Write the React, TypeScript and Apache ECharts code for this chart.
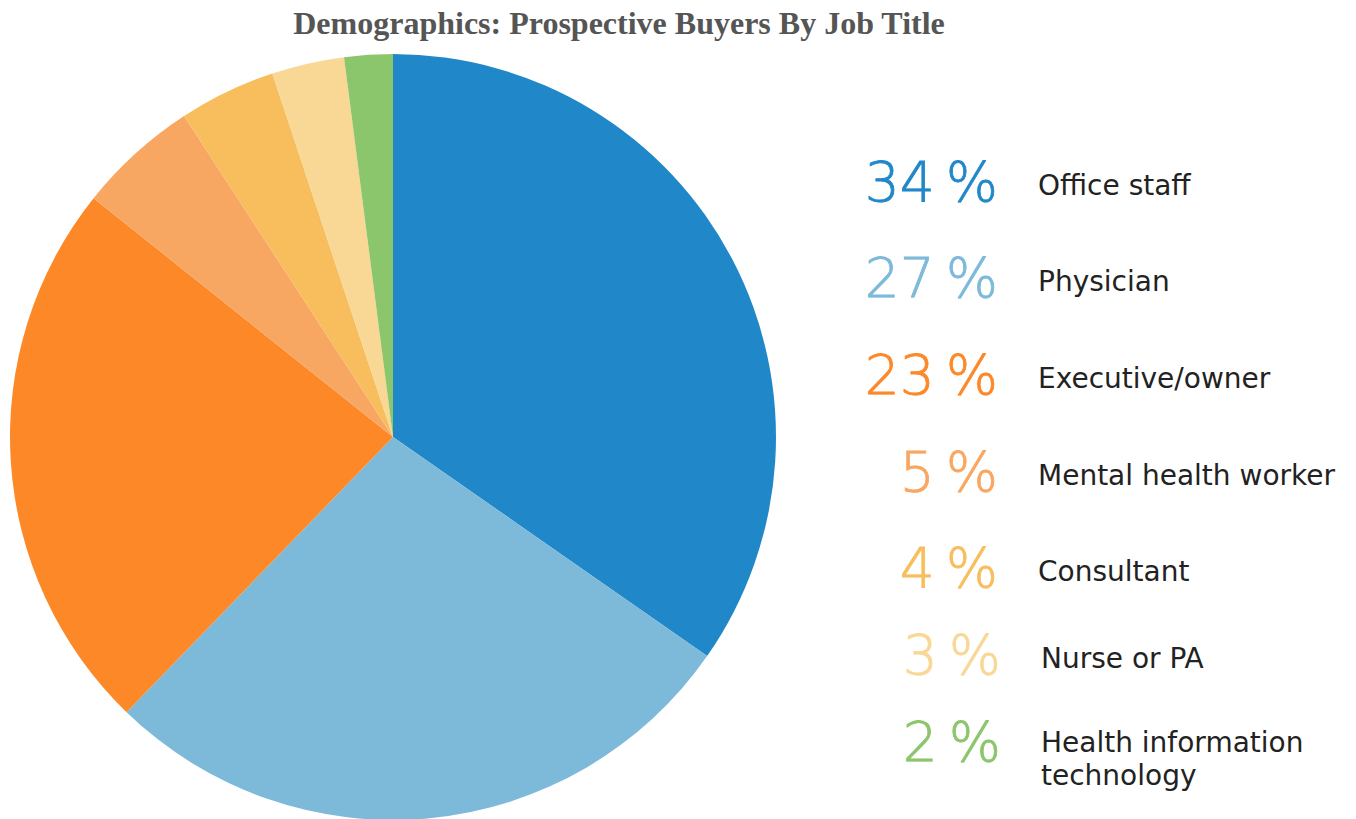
import React, { useEffect, useRef } from "react";
import * as echarts from "echarts";

const categories = [
  "Office staff",
  "Physician",
  "Executive/owner",
  "Mental health worker",
  "Consultant",
  "Nurse or PA",
  "Health information\ntechnology",
];
const values = [34, 27, 23, 5, 4, 3, 2];
const colors = ["#2088c8", "#7db9d9", "#fc8827", "#f8a762", "#f8bd5d", "#f9d795", "#8bc56c"];
const rowY = [182, 278, 375, 472, 568, 655, 742];
const titleText = "Demographics: Prospective Buyers By Job Title";

export default function App() {
  const ref = useRef<HTMLDivElement>(null);
  useEffect(() => {
    document.body.style.margin = "0";
    const chart = echarts.init(ref.current!, null, { renderer: "svg" });
    const graphics: any[] = [
      {
        type: "text",
        x: 619,
        y: 23,
        style: {
          text: titleText,
          fill: "#555555",
          font: "bold 32px 'Liberation Serif', serif",
          textAlign: "center",
          textVerticalAlign: "middle",
        },
      },
    ];
    categories.forEach((c, i) => {
      const nudge = i >= 5 ? 3 : 0;
      graphics.push({
        type: "text",
        x: 998 + nudge,
        y: rowY[i],
        style: {
          text: values[i] + "\u2009%",
          fill: colors[i],
          stroke: colors[i],
          lineWidth: 0.8,
          font: "200 55px 'DejaVu Sans', sans-serif",
          textAlign: "right",
          textVerticalAlign: "middle",
        },
      });
      const multi = c.includes("\n");
      graphics.push({
        type: "text",
        x: 1038 + nudge,
        y: multi ? rowY[i] + 17 : rowY[i] + 3,
        style: {
          text: c,
          fill: "#222222",
          font: "28px 'DejaVu Sans', sans-serif",
          lineHeight: 33,
          textAlign: "left",
          textVerticalAlign: "middle",
        },
      });
    });
    chart.setOption({
      animation: false,
      graphic: graphics,
      series: [
        {
          type: "pie",
          center: [393, 437],
          radius: 383,
          startAngle: 90,
          clockwise: true,
          label: { show: false },
          labelLine: { show: false },
          silent: true,
          data: categories.map((c, i) => ({
            name: c,
            value: values[i],
            itemStyle: { color: colors[i] },
          })),
        },
      ],
    });
    return () => chart.dispose();
  }, []);
  return <div ref={ref} style={{ width: 1356, height: 819 }} />;
}
